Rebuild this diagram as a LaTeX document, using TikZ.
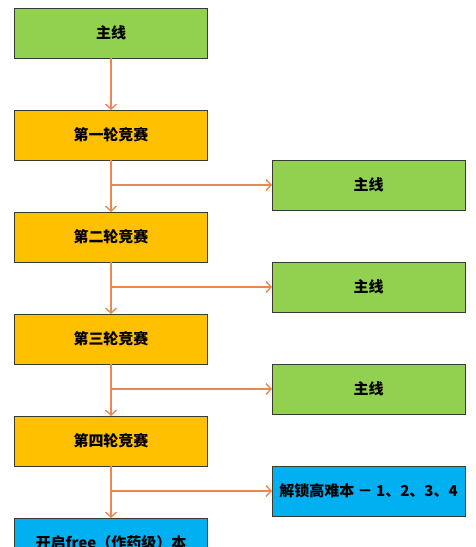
\documentclass[tikz,border=0pt]{standalone}
\usepackage{fontspec}
\setmainfont{Noto Sans CJK SC}
\usepackage{tikz}
\usetikzlibrary{arrows.meta,positioning}
\definecolor{caolv}{HTML}{92D050}
\definecolor{chenghuang}{HTML}{FFC000}
\definecolor{tianlan}{HTML}{00B0F0}
\definecolor{jiantou}{HTML}{E8894F}
\definecolor{biankuang}{HTML}{3A3A2E}

\begin{document}
\begin{tikzpicture}[x=1pt, y=-1pt, >={Straight Barb[length=5pt,width=11pt]}, node distance=52pt,
      kuang/.style={draw=biankuang, line width=0.8pt, minimum width=193pt, minimum height=50pt,
                    inner sep=0pt, outer sep=0pt, font=\fontsize{15}{17}\selectfont\bfseries},
      lianjie/.style={->, line width=1.4pt, jiantou}]
    \useasboundingbox (0,0) rectangle (475,547);
    \clip (0,0) rectangle (475,547);
    % zuo lie
    \node[kuang, fill=caolv] (zhuxian) at (111,33) {主线};
    \node[kuang, fill=chenghuang, below=of zhuxian] (lun1) {第一轮竞赛};
    \node[kuang, fill=chenghuang, below=of lun1] (lun2) {第二轮竞赛};
    \node[kuang, fill=chenghuang, below=of lun2] (lun3) {第三轮竞赛};
    \node[kuang, fill=chenghuang, below=of lun3] (lun4) {第四轮竞赛};
    \node[kuang, fill=tianlan, below=of lun4] (free) {开启free（作药级）本};
    % you lie
    \node[kuang, fill=caolv, right=64.5pt of lun1.south east, anchor=north west] (zhu1) {主线};
    \node[kuang, fill=caolv, right=64.5pt of lun2.south east, anchor=north west] (zhu2) {主线};
    \node[kuang, fill=caolv, right=64.5pt of lun3.south east, anchor=north west] (zhu3) {主线};
    \node[kuang, fill=tianlan, right=64.5pt of lun4.south east, anchor=north west] (jiesuo) {解锁高难本 － 1、2、3、4};
    % jiantou
    \draw[lianjie] (zhuxian) -- (lun1);
    \draw[lianjie] (lun1) -- (lun2);
    \draw[lianjie] (lun2) -- (lun3);
    \draw[lianjie] (lun3) -- (lun4);
    \draw[lianjie] (lun4) -- (free);
    \draw[lianjie] (lun1.south |- zhu1.west) -- (zhu1.west);
    \draw[lianjie] (lun2.south |- zhu2.west) -- (zhu2.west);
    \draw[lianjie] (lun3.south |- zhu3.west) -- (zhu3.west);
    \draw[lianjie] (lun4.south |- jiesuo.west) -- (jiesuo.west);
  \end{tikzpicture}
\end{document}
